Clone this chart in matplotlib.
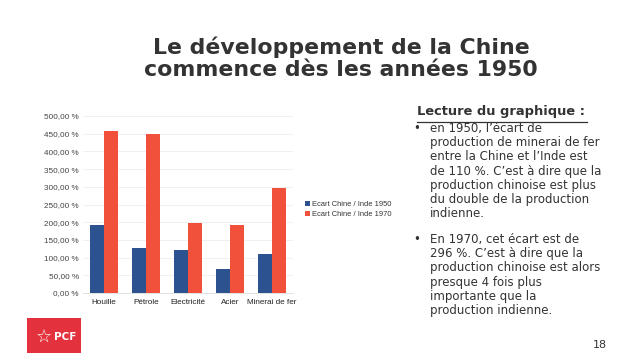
import numpy as np
import matplotlib
matplotlib.use('Agg')
import matplotlib.pyplot as plt
from matplotlib.patches import Rectangle
from matplotlib.lines import Line2D
from matplotlib.ticker import FuncFormatter

categories = ['Houille', 'Pétrole', 'Electricité', 'Acier', 'Minerai de fer']
ecart_1950 = [193, 128, 122, 68, 110]
ecart_1970 = [457, 450, 198, 191, 296]
labels = ['Ecart Chine / Inde 1950', 'Ecart Chine / Inde 1970']

blue = '#2d5290'
red = '#f1503b'
chart_font = 'Liberation Sans'

W, H = 640, 359
fig = plt.figure(figsize=(6.4, 3.59), dpi=100)
fig.patch.set_facecolor('white')

# chart area (pixel coords -> figure fraction)
x0, x1, y0, y1 = 83, 293, 116, 293
ax = fig.add_axes([x0 / W, 1 - y1 / H, (x1 - x0) / W, (y1 - y0) / H])

x = np.arange(len(categories))
bw = 1 / 3
ax.bar(x - bw / 2, ecart_1950, bw, color=blue, label=labels[0], zorder=3)
ax.bar(x + bw / 2, ecart_1970, bw, color=red, label=labels[1], zorder=3)

ax.set_xlim(-0.5, len(categories) - 0.5)
ax.set_ylim(0, 500)
ax.set_yticks(np.arange(0, 501, 50))
ax.yaxis.set_major_formatter(FuncFormatter(lambda v, p: f'{v:.2f}'.replace('.', ',') + ' %'))
ax.set_xticks(x)
ax.set_xticklabels(categories)
ax.tick_params(axis='y', length=0, labelsize=5.9, labelcolor='#444444', pad=3)
ax.tick_params(axis='x', length=0, labelsize=5.9, labelcolor='#222222', pad=4)
for t in ax.get_xticklabels() + ax.get_yticklabels():
    t.set_fontfamily(chart_font)
ax.grid(axis='y', color='#eeeeee', linewidth=0.6, zorder=0)
for s in ['top', 'right', 'left']:
    ax.spines[s].set_visible(False)
ax.spines['bottom'].set_color('#dddddd')
ax.spines['bottom'].set_linewidth(0.6)

fig.legend(loc='upper left', bbox_to_anchor=(302 / W, 1 - 198 / H), frameon=False,
           prop={'family': chart_font, 'size': 5.4}, handlelength=0.6,
           handleheight=0.6, handletextpad=0.3, labelspacing=0.45, borderaxespad=0)
for t in fig.legends[0].get_texts():
    t.set_color('#333333')

# title
fig.text(341 / W, 1 - 58 / H, 'Le développement de la Chine\ncommence dès les années 1950',
         ha='center', va='center', fontsize=15.8, fontweight='bold', color='#333333',
         linespacing=1.15)

# reading note
fig.text(417 / W, 1 - 112 / H, 'Lecture du graphique :', ha='left', va='center',
         fontsize=9.4, fontweight='bold', color='#333333')
fig.add_artist(Line2D([417 / W, 587 / W], [1 - 122.5 / H, 1 - 122.5 / H],
                      color='#333333', linewidth=0.9))

bullet1 = ("en 1950, l’écart de\nproduction de minerai de fer\nentre la Chine et l’Inde est\n"
           "de 110 %. C’est à dire que la\nproduction chinoise est plus\n"
           "du double de la production\nindienne.")
bullet2 = ("En 1970, cet écart est de\n296 %. C’est à dire que la\n"
           "production chinoise est alors\npresque 4 fois plus\nimportante que la\n"
           "production indienne.")
for top, txt in [(122, bullet1), (233, bullet2)]:
    fig.text(413 / W, 1 - top / H, '•', ha='left', va='top', fontsize=8.3, color='#333333')
    fig.text(430 / W, 1 - top / H, txt, ha='left', va='top', fontsize=8.5,
             color='#333333', linespacing=1.12)

# logo
fig.add_artist(Rectangle((27 / W, 1 - 353 / H), 54 / W, 35 / H,
                         transform=fig.transFigure, facecolor='#e3323d', edgecolor='none'))
fig.text(44 / W, 1 - 337 / H, '☆', ha='center', va='center', fontsize=13, color='white')
fig.text(65 / W, 1 - 337 / H, 'PCF', ha='center', va='center', fontsize=7.5,
         fontweight='bold', color='white')

fig.text(600 / W, 1 - 345 / H, '18', ha='center', va='center', fontsize=8, color='#333333')

fig.savefig('out.png', dpi=100, facecolor='white')
